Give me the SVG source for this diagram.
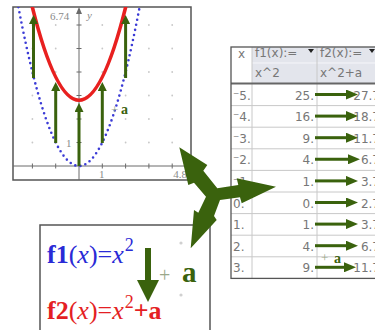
<svg xmlns="http://www.w3.org/2000/svg" width="375" height="330" viewBox="0 0 375 330">
<style>
.panel{fill:#fff;stroke:#555;stroke-width:1.5}
.axis{stroke:#6a6a6a;stroke-width:1;fill:none}
.gdot{fill:#c8c8c8}
.glab{font-family:"Liberation Serif",serif;font-size:11px;fill:#8a8a8a}
.garr{stroke:#3a620d;stroke-width:3;fill:none;marker-end:url(#hg)}
.tarr{stroke:#3a620d;stroke-width:3;fill:none;marker-end:url(#ht)}
.tt{font-family:"DejaVu Sans",sans-serif;font-size:12px;fill:#777}
.tline{stroke:#c8c8c8;stroke-width:1}
.green{fill:#3a620d}
.eq{font-family:"Liberation Serif",serif;font-size:26px}
</style>
<defs>
<marker id="hg" markerUnits="userSpaceOnUse" markerWidth="9" markerHeight="9" viewBox="0 0 10 10" refX="0" refY="5" orient="auto"><path d="M0,0 L10,5 L0,10 z" fill="#3a620d"/></marker>
<marker id="ht" markerUnits="userSpaceOnUse" markerWidth="12" markerHeight="10" viewBox="0 0 12 10" refX="0" refY="5" orient="auto"><path d="M0,0 L12,5 L0,10 z" fill="#3a620d"/></marker>
<clipPath id="gclip"><rect x="13" y="7" width="178" height="173"/></clipPath>
</defs>
<rect width="375" height="330" fill="#fff"/>

<g id="graph-panel">
<rect class="panel" x="13" y="7" width="178" height="173"/>
<g class="gdot">
<circle cx="32.4" cy="142.5" r="0.9"/><circle cx="55.7" cy="142.5" r="0.9"/><circle cx="102.3" cy="142.5" r="0.9"/><circle cx="125.6" cy="142.5" r="0.9"/><circle cx="148.9" cy="142.5" r="0.9"/><circle cx="172.2" cy="142.5" r="0.9"/>
<circle cx="32.4" cy="119" r="0.9"/><circle cx="55.7" cy="119" r="0.9"/><circle cx="102.3" cy="119" r="0.9"/><circle cx="125.6" cy="119" r="0.9"/><circle cx="148.9" cy="119" r="0.9"/><circle cx="172.2" cy="119" r="0.9"/>
<circle cx="32.4" cy="95.5" r="0.9"/><circle cx="55.7" cy="95.5" r="0.9"/><circle cx="102.3" cy="95.5" r="0.9"/><circle cx="125.6" cy="95.5" r="0.9"/><circle cx="148.9" cy="95.5" r="0.9"/><circle cx="172.2" cy="95.5" r="0.9"/>
<circle cx="32.4" cy="72" r="0.9"/><circle cx="55.7" cy="72" r="0.9"/><circle cx="102.3" cy="72" r="0.9"/><circle cx="125.6" cy="72" r="0.9"/><circle cx="148.9" cy="72" r="0.9"/><circle cx="172.2" cy="72" r="0.9"/>
<circle cx="32.4" cy="48.5" r="0.9"/><circle cx="55.7" cy="48.5" r="0.9"/><circle cx="102.3" cy="48.5" r="0.9"/><circle cx="125.6" cy="48.5" r="0.9"/><circle cx="148.9" cy="48.5" r="0.9"/><circle cx="172.2" cy="48.5" r="0.9"/>
<circle cx="32.4" cy="25" r="0.9"/><circle cx="55.7" cy="25" r="0.9"/><circle cx="102.3" cy="25" r="0.9"/><circle cx="125.6" cy="25" r="0.9"/><circle cx="148.9" cy="25" r="0.9"/><circle cx="172.2" cy="25" r="0.9"/>
</g>
<path class="axis" d="M13,166 H191 M79,10 V180 M32.4,163.5 v5 M55.7,163.5 v5 M102.3,163.5 v5 M125.6,163.5 v5 M148.9,163.5 v5 M172.2,163.5 v5 M76.5,142.5 h5 M76.5,119 h5 M76.5,95.5 h5 M76.5,72 h5 M76.5,48.5 h5 M76.5,25 h5"/>
<path d="M76,14 L82,14 L79,7 z" fill="#6a6a6a"/>
<g clip-path="url(#gclip)">
<path d="M18.4,7.1 Q79,324.9 139.6,7.1" fill="none" stroke="#3b3bd6" stroke-width="2.6" stroke-linecap="round" stroke-dasharray="0 5.2"/>
<path d="M30.1,-2 Q79,202.5 127.9,-2" fill="none" stroke="#e8201f" stroke-width="3.6"/>
</g>
<text class="glab" x="50" y="20">6.74</text>
<text class="glab" x="87" y="19" font-style="italic">y</text>
<text class="glab" x="66" y="147">1</text>
<text class="glab" x="99" y="178">1</text>
<text class="glab" x="187" y="178" text-anchor="end">4.8</text>
<text x="111" y="114" font-family="Liberation Serif,serif" font-size="13" fill="#9aa88a">+</text>
<text x="121" y="114" font-family="Liberation Serif,serif" font-size="14" font-weight="bold" class="green">a</text>
</g>

<g id="table-panel">
<rect x="231" y="47" width="150" height="231.4" fill="#fff"/>
<rect x="252" y="47" width="129" height="36" fill="#e3e5ec"/>
<line x1="252" y1="63" x2="381" y2="63" stroke="#f6f6fa" stroke-width="1"/>
<g class="tline">
<line x1="231" y1="105.6" x2="381" y2="105.6"/><line x1="231" y1="127.2" x2="381" y2="127.2"/><line x1="231" y1="148.8" x2="381" y2="148.8"/><line x1="231" y1="170.4" x2="381" y2="170.4"/><line x1="231" y1="192" x2="381" y2="192"/><line x1="231" y1="213.6" x2="381" y2="213.6"/><line x1="231" y1="235.2" x2="381" y2="235.2"/><line x1="231" y1="256.8" x2="381" y2="256.8"/>
<line x1="252" y1="47" x2="252" y2="278.4"/><line x1="317" y1="47" x2="317" y2="278.4"/>
</g>
<line x1="231" y1="83.5" x2="381" y2="83.5" stroke="#666" stroke-width="2"/>
<rect x="231" y="47" width="150" height="231.4" fill="none" stroke="#555" stroke-width="1.3"/>
<text class="tt" x="238" y="58">x</text>
<text class="tt" x="255" y="57" fill="#6a6ae0">f1(x):=</text>
<text class="tt" x="255" y="77" fill="#6a6ae0">x^2</text>
<text class="tt" x="320" y="57" fill="#ec6a6a">f2(x):=</text>
<text class="tt" x="320" y="77" fill="#ec6a6a">x^2+a</text>
<path d="M308,49 L314,49 L311,53 z M369,49 L375,49 L372,53 z" fill="#222"/>
<g class="tt">
<text x="233" y="99.5">⁻5.</text><text x="233" y="121.1">⁻4.</text><text x="233" y="142.7">⁻3.</text><text x="233" y="164.3">⁻2.</text><text x="233" y="185.9">⁻1.</text><text x="233" y="207.5">0.</text><text x="233" y="229.1">1.</text><text x="233" y="250.7">2.</text><text x="233" y="272.3">3.</text>
</g>
<g class="tt" text-anchor="end">
<text x="314" y="99.5">25.</text><text x="314" y="121.1">16.</text><text x="314" y="142.7">9.</text><text x="314" y="164.3">4.</text><text x="314" y="185.9">1.</text><text x="314" y="207.5">0.</text><text x="314" y="229.1">1.</text><text x="314" y="250.7">4.</text><text x="314" y="272.3">9.</text>
<text x="380" y="99.5">27.7</text><text x="380" y="121.1">18.7</text><text x="380" y="142.7">11.7</text><text x="380" y="164.3">6.7</text><text x="380" y="185.9">3.7</text><text x="380" y="207.5">2.7</text><text x="380" y="229.1">3.7</text><text x="380" y="250.7">6.7</text><text x="380" y="272.3">11.7</text>
</g>
<text x="321" y="262" font-family="Liberation Serif,serif" font-size="13" fill="#9aa88a">+</text>
<text x="334" y="263" font-family="Liberation Serif,serif" font-size="14" font-weight="bold" class="green">a</text>
</g>

<g id="equation-panel">
<rect class="panel" x="40" y="225" width="170" height="110"/>
<circle cx="181" cy="243" r="1.6" fill="#d0d0d0"/>
<circle cx="181" cy="295" r="1.6" fill="#d0d0d0"/>
<text class="eq" x="47" y="263" fill="#2a2ad6"><tspan font-weight="bold">f1</tspan>(<tspan font-style="italic">x</tspan>)=<tspan font-style="italic">x</tspan><tspan dx="1" dy="-12" font-size="18">2</tspan></text>
<text class="eq" x="47" y="319" fill="#e41f24"><tspan font-weight="bold">f2</tspan>(<tspan font-style="italic">x</tspan>)=<tspan font-style="italic">x</tspan><tspan dx="1" dy="-11" font-size="18">2</tspan><tspan dy="11" font-weight="bold">+a</tspan></text>
<text x="159" y="282" font-family="Liberation Serif,serif" font-size="20" fill="#9aa88a">+</text>
<text x="182" y="282" font-family="Liberation Serif,serif" font-size="29" font-weight="bold" class="green">a</text>
</g>

<g id="connectors">
<line class="garr" x1="33.5" y1="78" x2="33.5" y2="24"/>
<line class="garr" x1="55.7" y1="143" x2="55.7" y2="91"/>
<line class="garr" x1="79" y1="166" x2="79" y2="112"/>
<line class="garr" x1="102.3" y1="143" x2="102.3" y2="91"/>
<line class="garr" x1="125.6" y1="78" x2="125.6" y2="24"/>
<line class="tarr" x1="315" y1="94.5" x2="346" y2="94.5"/>
<line class="tarr" x1="315" y1="116.1" x2="346" y2="116.1"/>
<line class="tarr" x1="315" y1="137.7" x2="346" y2="137.7"/>
<line class="tarr" x1="315" y1="159.3" x2="348" y2="159.3"/>
<line class="tarr" x1="315" y1="180.9" x2="346" y2="180.9"/>
<line class="tarr" x1="315" y1="202.5" x2="346" y2="202.5"/>
<line class="tarr" x1="315" y1="224.1" x2="346" y2="224.1"/>
<line class="tarr" x1="315" y1="245.7" x2="346" y2="245.7"/>
<line class="tarr" x1="315" y1="267.3" x2="344" y2="267.3"/>
<path d="M145,248 H151 V280 H159 L148,302 L137,280 H145 z" class="green"/>
<polygon class="green" points="179.3,147.3 207.3,165 203.3,170.7 217.3,188.3 238.3,185 236.7,178.3 276,186.7 241.7,203.3 240,197.3 220,200 214,216 216.7,220 190.7,248.3 194,210 198.3,212.7 206,196.7 194,182.7 188.3,185"/>
</g>
</svg>
